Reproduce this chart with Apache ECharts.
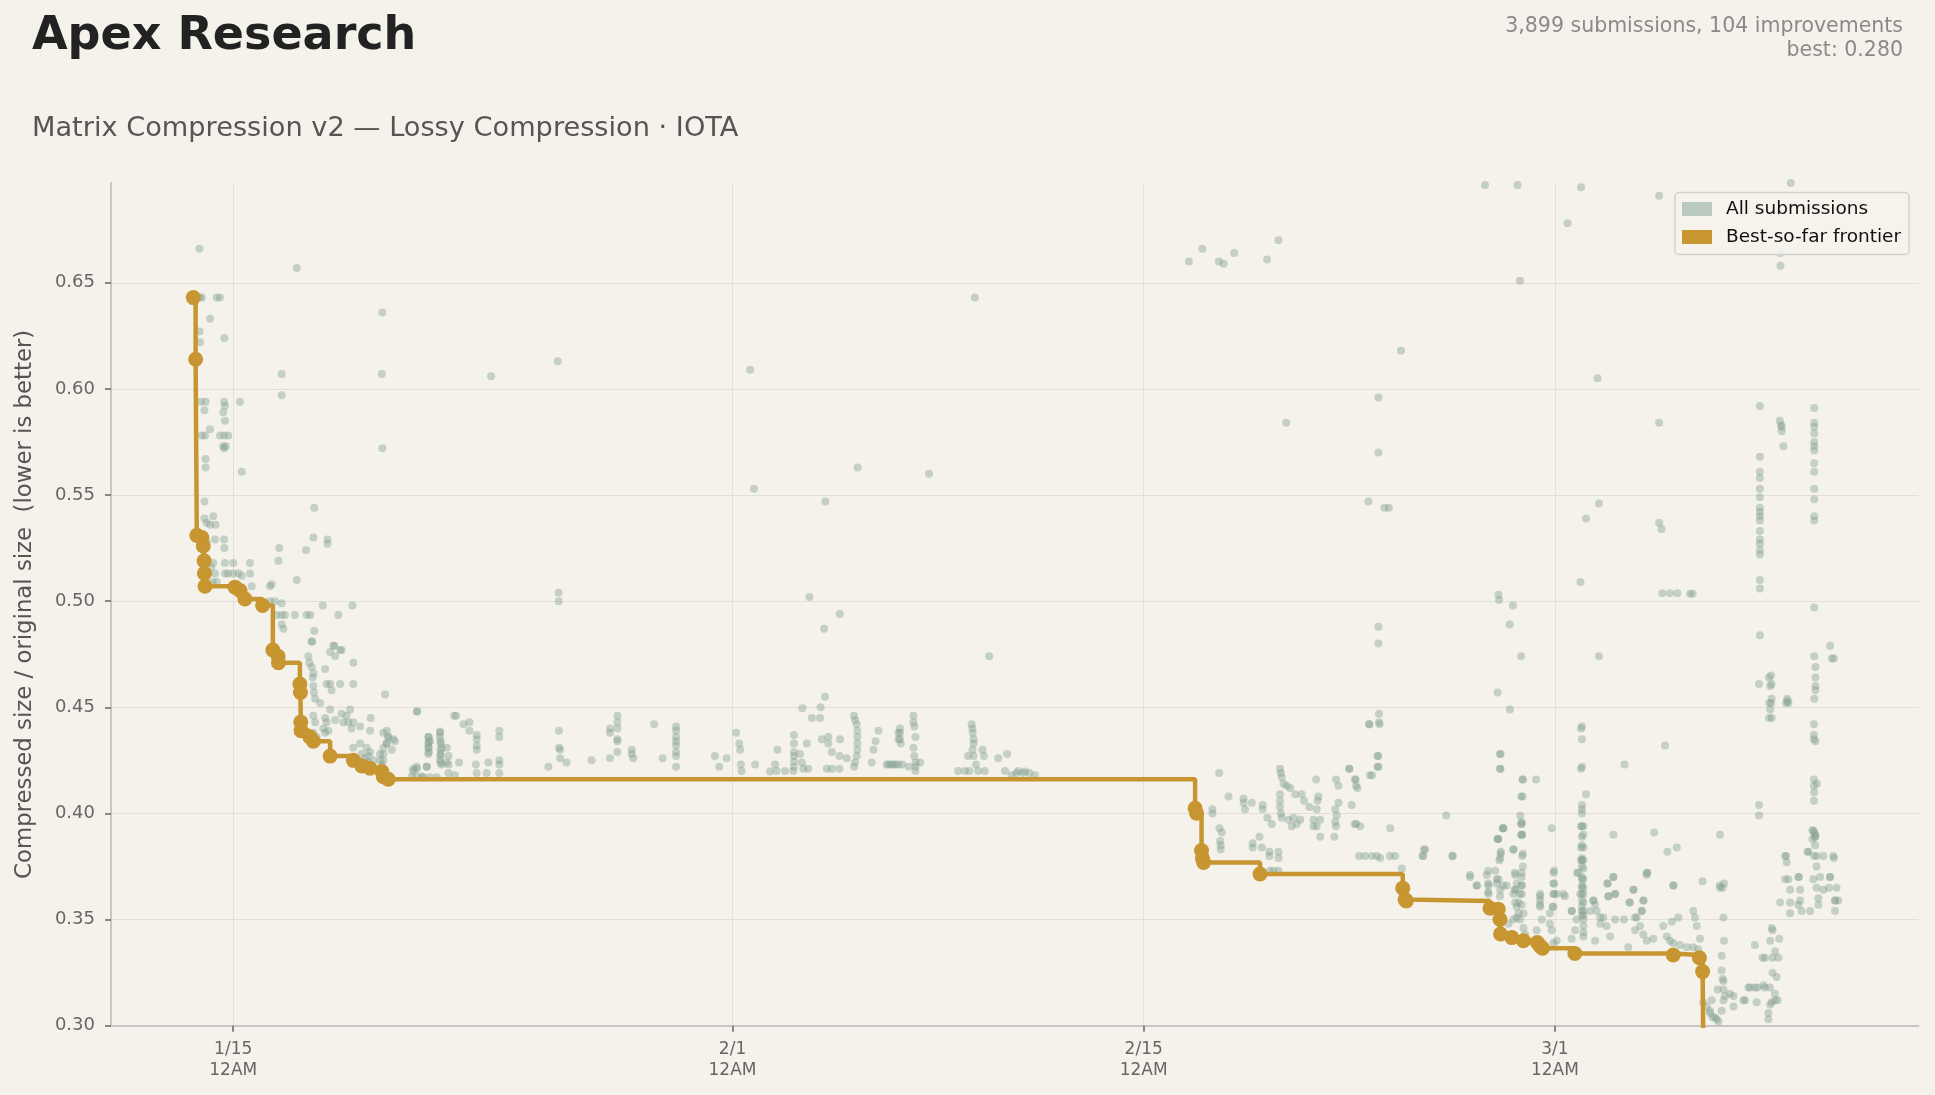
<!DOCTYPE html>
<html><head><meta charset="utf-8">
<script src="https://cdn.jsdelivr.net/npm/echarts@6/dist/echarts.min.js"></script>
<style>html,body{margin:0;padding:0;background:#f5f2eb;}#c{width:1935px;height:1095px;}</style>
</head><body><div id="c"></div>
<script>
// x values: days since Jan 15, 12AM
const xTickDays = [0, 17, 31, 45];
const xTickLabels = ['1/15\n12AM', '2/1\n12AM', '2/15\n12AM', '3/1\n12AM'];
const yTicks = [0.30, 0.35, 0.40, 0.45, 0.50, 0.55, 0.60, 0.65];

const frontier = [[-1.36,0.643],[-1.28,0.614],[-1.24,0.531],[-1.07,0.530],[-1.02,0.526],[-0.99,0.519],[-0.98,0.513],[-0.96,0.507],[0.06,0.5066],[0.23,0.505],[0.40,0.501],[1.00,0.498],[1.35,0.477],[1.53,0.474],[1.54,0.471],[2.27,0.461],[2.29,0.457],[2.30,0.443],[2.31,0.439],[2.61,0.436],[2.73,0.434],[3.30,0.427],[4.09,0.425],[4.38,0.4224],[4.66,0.4213],[5.06,0.4197],[5.11,0.4173],[5.28,0.4161],[32.75,0.4024],[32.80,0.4001],[32.97,0.3825],[33.00,0.3789],[33.04,0.3769],[34.96,0.3715],[39.82,0.3648],[39.90,0.3595],[39.94,0.3588],[42.79,0.3553],[43.07,0.3549],[43.13,0.350],[43.15,0.3432],[43.53,0.3415],[43.93,0.3400],[44.40,0.3392],[44.50,0.3375],[44.58,0.3365],[45.68,0.3340],[49.03,0.3333],[49.92,0.3320],[50.03,0.3255],[50.06,0.280]];

const subsEarly = [[-1.15,0.666],[-1.13,0.643],[-1.07,0.643],[-0.56,0.643],[-0.45,0.643],[-0.79,0.633],[-1.15,0.627],[-1.13,0.622],[-0.30,0.624],[2.16,0.657],[5.08,0.636],[1.65,0.607],[5.06,0.607],[1.65,0.597],[5.08,0.572],
[-1.10,0.594],[-0.94,0.594],[-0.98,0.590],[-0.31,0.594],[-0.28,0.592],[-0.34,0.589],[-0.28,0.585],[0.23,0.594],[-0.79,0.581],[-1.07,0.578],[-0.96,0.578],[-0.45,0.578],[-0.31,0.578],[-0.17,0.578],[-0.34,0.573],[-0.25,0.573],[-0.31,0.572],[-0.94,0.567],[-0.94,0.563],[0.29,0.561],
[-0.98,0.547],[-0.68,0.540],[2.76,0.544],[-0.98,0.539],[-0.90,0.537],[-0.79,0.536],[-0.60,0.536],[-0.62,0.529],[-0.31,0.529],[2.73,0.530],[3.21,0.529],[3.21,0.527],[-0.30,0.525],[1.57,0.525],[2.48,0.524],
[-1.20,0.531],[-1.05,0.530],[-0.90,0.528],[-0.75,0.516],[-0.70,0.509],
[-0.68,0.518],[-0.28,0.518],[0.00,0.518],[0.57,0.518],[1.54,0.519],[2.16,0.510],
[-0.85,0.513],[-0.62,0.513],[-0.28,0.513],[-0.17,0.513],[0.00,0.513],[0.18,0.513],[0.29,0.512],[0.57,0.513],
[-0.56,0.509],[0.63,0.507],[1.25,0.507],[1.31,0.508],
[1.25,0.500],[1.42,0.500],[1.65,0.499],[3.05,0.498],[4.06,0.498],
[1.48,0.4935],[1.65,0.4935],[1.76,0.4935],[2.10,0.4935],[2.50,0.4935],[2.62,0.4935],[3.58,0.4935],
[1.65,0.489],[1.71,0.487],[2.76,0.486],[2.69,0.481],[3.44,0.479],[3.69,0.477],
[2.67,0.481],[3.41,0.479],[3.64,0.477],[3.30,0.476],[3.47,0.474],[2.56,0.474],[2.59,0.471],[2.67,0.469],[2.73,0.466],[4.09,0.471],[3.13,0.468],[2.71,0.464],[2.73,0.460],[2.75,0.457],[2.79,0.454],[3.18,0.461],[3.30,0.461],[3.35,0.458],[3.64,0.461],[4.09,0.461],[5.17,0.456],[2.96,0.452],[3.30,0.449],[3.69,0.447],[3.98,0.449],
[2.73,0.446],[2.79,0.443],[3.13,0.445],[3.18,0.443],[3.07,0.440],[3.24,0.439],[3.47,0.444],[3.75,0.443],[3.92,0.443],[4.03,0.440],[3.86,0.446],[4.09,0.443],[4.32,0.441],[4.66,0.439],[4.68,0.445],[2.73,0.438],[2.84,0.436],[3.13,0.438],
[6.25,0.448],[5.23,0.439],[5.28,0.436],[5.51,0.434],[5.23,0.433],[5.11,0.431],[5.00,0.428],
[4.09,0.431],[4.32,0.433],[4.54,0.431],[4.66,0.429],[4.60,0.427],[4.77,0.425],[5.00,0.425],[5.06,0.423],[5.11,0.420],[4.37,0.428],[4.49,0.426],[4.60,0.424]];

const subsPlateau = [[6.13,0.421],[6.25,0.422],[6.59,0.422],[6.08,0.4174],[6.25,0.4174],[6.42,0.4174],
[6.64,0.436],[6.64,0.433],[6.64,0.431],[6.64,0.428],[6.70,0.434],[7.04,0.438],[7.06,0.434],[7.10,0.431],[7.06,0.428],[7.04,0.425],[7.10,0.423],[7.27,0.431],[7.27,0.424],
[5.11,0.438],[5.22,0.433],[5.11,0.428],[5.28,0.436],[5.45,0.435],[5.40,0.430],[5.11,0.425],
[6.27,0.448],[7.52,0.446],[7.59,0.446],[7.84,0.442],[8.04,0.443],[8.04,0.439],
[6.66,0.436],[6.66,0.434],[6.66,0.431],[6.66,0.429],
[7.04,0.4386],[7.04,0.436],[7.06,0.433],[7.06,0.430],[7.06,0.427],[7.06,0.4236],[7.33,0.427],[7.33,0.423],
[6.59,0.422],[6.13,0.420],[6.25,0.421],[6.47,0.417],[6.70,0.417],[6.93,0.417],[7.33,0.419],[7.55,0.418],[7.69,0.424],
[8.29,0.437],[8.29,0.435],[8.29,0.432],[8.29,0.430],[8.26,0.423],[8.29,0.419],[8.63,0.419],[8.69,0.424],
[9.06,0.439],[9.06,0.436],[9.06,0.425],[9.06,0.423],[9.06,0.419],
[11.09,0.439],[11.09,0.431],[11.13,0.430],[11.13,0.426],[11.35,0.424],[10.73,0.422],[12.20,0.425],
[12.83,0.426],[12.83,0.440],[12.83,0.438],[13.08,0.446],[13.08,0.443],[13.08,0.440],[13.08,0.435],[13.08,0.434],[13.08,0.429],
[13.57,0.430],[13.57,0.428],[13.62,0.426],[14.33,0.442],[14.62,0.426],
[15.08,0.441],[15.08,0.439],[15.08,0.436],[15.08,0.434],[15.08,0.432],[15.08,0.429],[15.08,0.427],[15.08,0.422],
[16.40,0.427],[16.80,0.426],[16.55,0.422],
[17.12,0.438],[17.23,0.433],[17.26,0.430],[17.28,0.423],[17.31,0.420],[17.77,0.423],
[18.28,0.4197],[18.50,0.420],[18.45,0.423],[18.53,0.430],[18.79,0.420],
[19.09,0.437],[19.09,0.433],[19.09,0.429],[19.09,0.427],[19.09,0.4245],[19.09,0.422],[19.07,0.420],[19.30,0.428],[19.41,0.421],[19.58,0.421],[19.53,0.433],[19.36,0.424],
[19.38,0.4496],[19.70,0.445],[19.98,0.445],[20.00,0.450],[20.15,0.455],
[20.04,0.435],[20.26,0.436],[20.26,0.433],[20.38,0.429],[20.66,0.435],[20.64,0.427],[20.89,0.426],
[20.21,0.421],[20.38,0.421],[20.64,0.421],
[21.14,0.446],[21.17,0.444],[21.23,0.442],[21.25,0.439],[21.25,0.436],[21.25,0.433],[21.25,0.430],[21.23,0.427],[21.17,0.424],[21.14,0.422],
[21.87,0.434],[21.74,0.424],[21.97,0.439],[21.80,0.430],
[22.31,0.423],[22.48,0.423],[22.65,0.423],[22.65,0.438],[22.65,0.435],
[21.26,0.563],[23.69,0.560],[17.73,0.553],[20.16,0.547],[11.08,0.504],[11.08,0.500],[19.62,0.502],[20.65,0.494],[20.12,0.487],[25.74,0.474],
[25.25,0.643],[17.60,0.609],[11.05,0.613],[8.78,0.606],
[22.70,0.440],[22.70,0.438],[22.70,0.435],[22.73,0.433],
[23.16,0.446],[23.16,0.443],[23.19,0.441],[23.23,0.436],[23.16,0.431],[23.19,0.427],[23.23,0.424],[23.23,0.422],[23.23,0.420],[23.39,0.424],
[22.25,0.423],[22.40,0.423],[22.55,0.423],[22.78,0.423],[23.00,0.422],
[25.14,0.442],[25.17,0.440],[25.18,0.438],[25.21,0.435],[25.21,0.433],[25.17,0.430],[25.21,0.427],[25.29,0.423],[25.36,0.420],[25.02,0.427],[25.06,0.420],
[25.51,0.430],[25.56,0.427],[26.05,0.426],[26.35,0.428],[26.28,0.420],[24.68,0.420],[24.91,0.420],[25.59,0.420],[26.73,0.420],[26.66,0.419],[26.88,0.419],[27.11,0.419],[26.96,0.4197],[26.50,0.418],[27.30,0.418]];

const subsLateFeb = [[32.54,0.660],[33.00,0.666],[33.56,0.660],[33.72,0.659],[34.08,0.664],[35.20,0.661],[35.59,0.670],[42.62,0.696],[43.73,0.696],[45.89,0.695],[48.55,0.691],[45.43,0.678],[43.81,0.651],[39.76,0.618],[46.45,0.605],[38.99,0.596],[38.99,0.570],[35.85,0.584],[48.55,0.584],[38.65,0.547],[39.20,0.544],[39.35,0.544],[46.50,0.546],[46.06,0.539],[48.55,0.537],[48.63,0.534],[45.87,0.509],[48.66,0.5037],[48.92,0.5037],[49.17,0.5037],[49.60,0.5035],[49.69,0.5035],[43.08,0.503],[43.10,0.5006],[43.57,0.498],[43.46,0.489],[38.99,0.488],[38.99,0.480],[43.85,0.474],[46.50,0.474],[52.68,0.658],[52.68,0.664],[53.03,0.697],
[33.57,0.419],[33.89,0.408],[33.34,0.402],[33.34,0.400],[33.58,0.393],[33.66,0.391],[33.60,0.387],[33.62,0.385],[33.62,0.383],
[34.40,0.407],[34.40,0.405],[34.45,0.402],[34.68,0.405],[35.05,0.404],[35.05,0.402],[35.21,0.398],[35.36,0.395],
[34.71,0.386],[34.94,0.389],[34.71,0.384],[35.02,0.384],[35.28,0.382],[35.28,0.380],[35.59,0.382],[35.59,0.379],
[35.30,0.373],[35.42,0.373],[35.59,0.373],
[35.64,0.421],[35.67,0.419],[35.70,0.417],[35.76,0.414],[35.87,0.413],[35.64,0.409],[35.64,0.406],[35.64,0.403],[35.67,0.400],[35.70,0.398],[35.99,0.412],[35.93,0.397],[36.04,0.394],
[36.10,0.398],[36.21,0.395],[36.33,0.397],[36.16,0.409],[36.38,0.409],
[36.46,0.406],[36.64,0.403],[36.78,0.397],[36.89,0.394],[36.95,0.408],[36.92,0.406],[36.89,0.402],[37.01,0.397],[36.78,0.394],[37.01,0.389],[36.87,0.416],
[37.55,0.416],[37.63,0.413],[37.52,0.402],[37.57,0.399],[37.52,0.396],[37.55,0.394],[37.49,0.389],[37.63,0.405],
[38.01,0.421],[38.22,0.416],[38.28,0.412],[38.08,0.404],[38.23,0.395],[38.37,0.394],
[38.69,0.442],[39.03,0.442],[38.99,0.427],[38.99,0.422],[38.77,0.418],[39.39,0.393],
[38.33,0.380],[38.54,0.380],[38.77,0.380],[38.94,0.380],[39.05,0.379],[39.39,0.380],[39.56,0.380],[39.79,0.374],
[40.58,0.383],[40.52,0.380],[41.30,0.399],[41.52,0.380],[42.11,0.371],
[42.34,0.366],[42.74,0.366],[42.74,0.362],[43.02,0.367],[43.14,0.364],[43.36,0.366],[43.65,0.371],[43.65,0.364],[43.87,0.370],[43.87,0.366],[43.87,0.362],[42.97,0.373],[43.08,0.369],[43.59,0.362],
[43.06,0.388],[43.16,0.382],[43.14,0.379],[43.25,0.393],[43.59,0.383],[43.87,0.396],[43.87,0.390],[43.91,0.381],[43.91,0.375],[43.82,0.399],
[43.15,0.428],[43.15,0.421],[43.91,0.416],[44.36,0.416],[43.90,0.408],[44.89,0.393],
[43.65,0.358],[43.70,0.356],[43.87,0.357],[43.93,0.353],[43.70,0.351],
[44.50,0.362],[44.50,0.359],[44.50,0.356],[44.97,0.373],[44.97,0.367],[44.97,0.362],[45.29,0.362],[44.95,0.356],
[45.92,0.441],[45.92,0.435],[45.92,0.422],[46.06,0.409],[45.92,0.404],[45.92,0.402],[45.92,0.400],[45.92,0.394],[45.92,0.389],[45.92,0.385],[45.92,0.379],[45.92,0.378],[45.92,0.375],[45.92,0.370],[45.92,0.369],[45.92,0.366],[45.92,0.365],[45.92,0.362],[45.92,0.359],[45.92,0.356],[45.92,0.354],[45.92,0.352],
[45.75,0.372],[45.58,0.354],[46.37,0.357],[46.31,0.359],[46.20,0.354],[46.54,0.351],
[46.99,0.390],[47.37,0.423],[46.99,0.370],[46.79,0.367],[47.05,0.362],[46.82,0.361],[47.68,0.364],[48.02,0.359],[47.56,0.358],[48.13,0.372],[47.96,0.354],[47.73,0.351],
[48.38,0.391],[48.75,0.432],[48.83,0.382],[49.04,0.366],[49.15,0.384],
[37.99,0.421],[38.19,0.416],[38.23,0.413],[38.70,0.418],[38.96,0.422],[38.96,0.427],[39.01,0.443],[39.01,0.447],[38.67,0.442],[38.19,0.395],
[40.54,0.383],[40.49,0.380],[41.51,0.380],
[43.05,0.457],[43.47,0.449],[43.13,0.428],[43.13,0.421],[43.90,0.416],[43.85,0.408],[43.85,0.395],[43.85,0.390],[43.22,0.393],[43.05,0.388],
[45.89,0.440],[45.89,0.421],[45.89,0.394],[45.89,0.384],[45.89,0.378],
[50.71,0.365],[50.62,0.365],[50.03,0.368],[48.12,0.371]];

const subsMarch = [[43.24,0.393],[43.07,0.388],[43.87,0.395],[43.89,0.390],[43.59,0.383],[43.89,0.380],[43.15,0.381],[43.11,0.378],
[42.73,0.373],[42.68,0.371],[42.73,0.367],[42.73,0.363],[43.02,0.369],[43.24,0.366],[43.13,0.361],[42.34,0.366],[42.11,0.370],
[43.64,0.372],[43.70,0.367],[43.64,0.364],[43.81,0.362],[43.87,0.366],[43.87,0.372],[43.76,0.358],[43.76,0.353],[43.81,0.350],[43.59,0.350],[43.42,0.348],[43.93,0.346],[43.98,0.343],
[44.49,0.361],[44.49,0.357],[44.55,0.350],[44.38,0.345],[44.83,0.348],[44.89,0.345],[45.06,0.340],[44.95,0.339],
[44.95,0.372],[44.95,0.367],[44.95,0.362],[45.06,0.362],[45.34,0.361],[44.92,0.356],[44.83,0.353],
[45.97,0.394],[45.97,0.390],[45.97,0.384],[45.97,0.378],[45.97,0.374],[45.97,0.369],[45.97,0.365],[45.97,0.362],[45.97,0.358],[45.97,0.354],[45.97,0.352],[45.97,0.350],[45.97,0.347],[45.97,0.344],[45.97,0.342],
[45.57,0.354],[45.74,0.350],[45.69,0.345],[45.57,0.341],[45.86,0.362],[45.80,0.372],[46.31,0.359],[46.42,0.354],[46.54,0.348],[46.37,0.340],[46.65,0.351],[46.88,0.342],[47.05,0.350],[46.76,0.347],
[46.79,0.367],[46.99,0.370],[46.82,0.361],[47.05,0.362],[47.35,0.350],[47.53,0.358],[47.67,0.364],[47.78,0.351],[48.01,0.359],[47.96,0.354],[47.90,0.347],[48.01,0.343],[48.13,0.340],[48.15,0.372],
[47.50,0.337],[47.73,0.345],[48.35,0.341],[48.69,0.347],[48.81,0.342],[48.92,0.340],[49.03,0.339],[49.26,0.338],[49.49,0.337],[49.71,0.337],[49.88,0.336],[49.94,0.341],[49.83,0.347],[49.71,0.354],[49.77,0.351],
[49.03,0.366],[49.20,0.351],[48.98,0.349],[50.62,0.366],[50.76,0.367],[50.74,0.351],
[50.05,0.311],[50.17,0.309],[50.28,0.306],[50.45,0.304],[50.57,0.302],[50.68,0.307],[50.74,0.312],[50.74,0.317],[50.74,0.321],[50.68,0.326],[50.68,0.333],[50.76,0.340],[50.51,0.303],[50.34,0.312],[50.28,0.307],
[51.08,0.314],[51.08,0.309],[51.42,0.312],[51.59,0.318],[51.81,0.318],[51.87,0.311],[52.10,0.319],[52.32,0.318],[52.38,0.311],[52.49,0.315],[52.55,0.323],[52.61,0.332],[52.15,0.332],[52.38,0.346],[52.64,0.341],[52.27,0.303],[52.27,0.306],[51.81,0.338],
[52.84,0.380],[52.89,0.377],[52.95,0.369],[53.01,0.364],[53.01,0.358],[53.01,0.353],[53.29,0.370],[53.35,0.364],[53.35,0.359],[53.29,0.357],[53.63,0.382],[53.80,0.392],[53.86,0.389],[53.86,0.385],[53.91,0.380],[53.91,0.375],[53.80,0.369],[53.91,0.365],[53.97,0.360],[54.14,0.380],[54.14,0.364],[53.97,0.357],[54.37,0.370],[54.48,0.380],[54.54,0.359],[54.54,0.354],[54.59,0.365],[54.65,0.359],[52.67,0.358],[53.69,0.354],[53.40,0.354],
[50.37,0.304],[50.54,0.317],[50.71,0.322],[50.79,0.314],[50.96,0.315],[51.47,0.312],[51.64,0.318],[51.90,0.318],[52.15,0.318],[52.07,0.332],[52.41,0.332],[52.50,0.335],[52.41,0.325],[52.50,0.312],[52.33,0.310],[52.58,0.312],[52.41,0.345],[52.33,0.340],
[51.95,0.404],[51.95,0.399],[51.95,0.461],[52.29,0.464],[52.36,0.465],[52.33,0.460],[52.36,0.452],[52.33,0.449],[52.29,0.445],[52.92,0.453],[52.87,0.452],
[53.77,0.392],[53.77,0.388],[53.82,0.380],[53.60,0.382],[53.86,0.389],[52.87,0.380],[52.84,0.369],[53.31,0.370],[54.03,0.370],[54.37,0.370],[54.33,0.365],[54.50,0.379],[54.54,0.359],
[53.82,0.406],[53.82,0.416],[53.82,0.413],[53.82,0.442],[53.82,0.437],[53.82,0.435],
[51.98,0.592],[51.98,0.568],[51.98,0.561],[51.98,0.558],[51.98,0.553],[51.98,0.549],[51.98,0.544],[51.98,0.542],[51.98,0.540],[51.98,0.538],[51.98,0.533],[51.98,0.529],[51.98,0.527],[51.98,0.524],[51.98,0.522],[51.98,0.510],[51.98,0.506],[51.98,0.484],
[52.66,0.585],[52.70,0.583],[52.72,0.582],[52.72,0.580],[52.78,0.573],
[53.83,0.591],[53.83,0.584],[53.83,0.582],[53.83,0.579],[53.83,0.575],[53.83,0.573],[53.83,0.571],[53.83,0.565],[53.83,0.561],[53.83,0.553],[53.83,0.548],[53.83,0.540],[53.83,0.538],[53.83,0.497],[53.83,0.474],[53.87,0.469],[53.87,0.464],[53.87,0.460],[53.87,0.458],[53.83,0.454],[53.87,0.434],[53.92,0.414],[53.83,0.410],[53.83,0.391],[53.87,0.390],
[54.37,0.479],[54.43,0.473],[54.50,0.473],[52.38,0.461],[52.38,0.454],[52.30,0.452],[52.38,0.445],[52.91,0.454],[52.95,0.452],[50.62,0.390]];

const statsText = '3,899 submissions, 104 improvements\nbest: 0.280';

const allSubs = subsEarly.concat(subsPlateau, subsLateFeb, subsMarch);
const FONT = 'DejaVu Sans';
const GOLD = '#c79630';

const chart = echarts.init(document.getElementById('c'), null, {renderer: 'canvas'});
chart.setOption({
  backgroundColor: '#f5f2eb',
  animation: false,
  textStyle: {fontFamily: FONT},
  title: [
    {text: 'Apex Research', left: 32, top: 14, padding: 0,
     textStyle: {fontFamily: FONT, fontSize: 46, fontWeight: 'bold', color: '#222222'}},
    {text: 'Matrix Compression v2 — Lossy Compression · IOTA', left: 32, top: 115, padding: 0,
     textStyle: {fontFamily: FONT, fontSize: 27.2, fontWeight: 'normal', color: '#555555'}}
  ],
  graphic: [
    {type: 'text', x: 1903, y: 14.5, silent: true,
     style: {text: statsText, align: 'right', textAlign: 'right', verticalAlign: 'top',
       font: '20.5px "DejaVu Sans"', fill: '#8a8a8a', lineHeight: 24}}
  ],
  legend: {
    orient: 'vertical', left: 1675, top: 192.5,
    itemWidth: 30, itemHeight: 14, itemGap: 9,
    padding: [7, 8, 8, 7],
    backgroundColor: 'rgba(246,243,237,0.85)', borderColor: '#d2d2d2', borderWidth: 1.5, borderRadius: 4,
    selectedMode: false,
    textStyle: {fontFamily: FONT, fontSize: 18.5, color: '#111111', padding: [0, 0, 0, 9]},
    data: [
      {name: 'All submissions', icon: 'rect', itemStyle: {color: '#b9c9c0', opacity: 1}},
      {name: 'Best-so-far frontier', icon: 'rect', itemStyle: {color: GOLD}}
    ]
  },
  grid: {left: 111, right: 16.5, top: 183, bottom: 69.3, containLabel: false},
  xAxis: {
    type: 'value', min: -4.161, max: 57.38,
    axisLine: {show: true, onZero: false, lineStyle: {color: '#c6c6c6', width: 2}},
    axisTick: {show: true, customValues: xTickDays, length: 6, lineStyle: {color: '#666666', width: 1.5}},
    axisLabel: {customValues: xTickDays, formatter: v => { const i = xTickDays.indexOf(v); return i >= 0 ? xTickLabels[i] : ''; },
      fontFamily: FONT, fontSize: 17, color: '#666666', lineHeight: 21, margin: 13},
    splitLine: {show: true, lineStyle: {color: '#e2dfd8', width: 1}}
  },
  yAxis: {
    type: 'value', min: 0.30, max: 0.697,
    name: 'Compressed size / original size  (lower is better)', nameLocation: 'middle', nameGap: 74, nameRotate: 90,
    nameTextStyle: {fontFamily: FONT, fontSize: 22.8, color: '#555555'},
    axisLine: {show: true, onZero: false, lineStyle: {color: '#c6c6c6', width: 2}},
    axisTick: {show: true, customValues: yTicks, length: 6, lineStyle: {color: '#666666', width: 1.5}},
    axisLabel: {customValues: yTicks, formatter: v => v.toFixed(2), fontFamily: FONT, fontSize: 18, color: '#666666', margin: 16},
    splitLine: {show: true, lineStyle: {color: '#e2dfd8', width: 1}}
  },
  series: [
    {type: 'scatter', name: 'All submissions', data: allSubs, symbolSize: 8, silent: true, z: 2,
     itemStyle: {color: '#87a294', opacity: 0.44}},
    {type: 'line', name: 'Best-so-far frontier', data: frontier, step: 'end', symbol: 'circle', symbolSize: 15,
     showAllSymbol: true, clip: true, z: 3, silent: true,
     lineStyle: {color: GOLD, width: 4.5}, itemStyle: {color: GOLD}}
  ]
});
</script>
</body></html>
